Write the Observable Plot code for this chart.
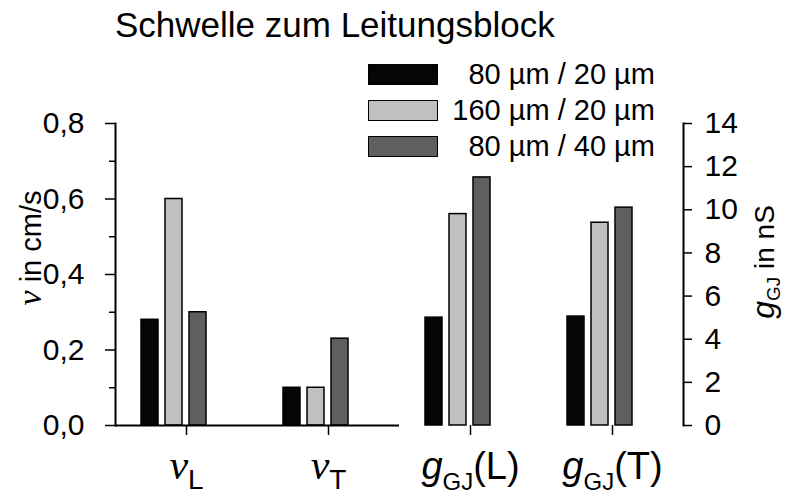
<!DOCTYPE html>
<html lang="de">
<head>
<meta charset="utf-8">
<script src="https://cdn.jsdelivr.net/npm/d3@7"></script>
<script src="https://cdn.jsdelivr.net/npm/@observablehq/plot@0.6"></script>
<style>
  html, body { margin: 0; background: #fff; }
  #chart { position: relative; width: 787px; height: 494px; font-family: "Liberation Sans", Arial, sans-serif; color: #000; overflow: hidden; }
  #chart svg { position: absolute; left: 0; top: 0; }
  #title { position: absolute; left: 115px; top: 7px; font-size: 35px; line-height: 35px; white-space: nowrap; }
  .legend-row { position: absolute; left: 368px; width: 287px; height: 36px; display: flex; align-items: center; justify-content: space-between; font-size: 29px; line-height: 36px; white-space: nowrap; }
  .swatch { box-sizing: border-box; width: 70px; height: 21px; border: 1.5px solid #000; }
  .axis-title { position: absolute; font-size: 29px; line-height: 1; white-space: nowrap; transform: translate(-50%, -50%) rotate(-90deg); }
  .axis-title.right { font-size: 28px; }
  .var-serif { font-family: "Liberation Serif", "Times New Roman", serif; font-style: italic; font-size: 34px; }
  .var-sans { font-style: italic; font-size: 32px; }
  .axis-title sub { font-size: 19px; vertical-align: -6px; line-height: 0; }
</style>
</head>
<body>
<div id="chart">
  <div id="title">Schwelle zum Leitungsblock</div>
</div>
<script>
// Groups along the x axis and the parts of their labels
const groups = ["vL", "vT", "gL", "gT"];
const groupSymbol = ["v", "v", "g", "g"];
const groupSub = ["L", "T", "GJ", "GJ"];
const groupSuffix = ["", "", "(L)", "(T)"];

// Geometry variants (bar series)
const series = ["80 µm / 20 µm", "160 µm / 20 µm", "80 µm / 40 µm"];
const seriesColors = ["#050505", "#c0c0c0", "#5f5f5f"];

// Conduction velocities, cm/s (left axis)
const vL = [0.28, 0.60, 0.30];
const vT = [0.10, 0.10, 0.23];

// Gap-junction conductance, nS (right axis)
const gL = [5.0, 9.8, 11.5];
const gT = [5.05, 9.4, 10.1];

// Axis ticks
const vTicks = [0, 0.2, 0.4, 0.6, 0.8];
const vMinorTicks = [0.1, 0.3, 0.5, 0.7];
const gTicks = [0, 2, 4, 6, 8, 10, 12, 14];

const rows = (group, values) => values.map((value, i) => ({group, series: series[i], value}));
const vData = [...rows("vL", vL), ...rows("vT", vT)];
const gData = [...rows("gL", gL), ...rows("gT", gT)];

const SANS = "Liberation Sans, Arial, sans-serif";
const SERIF = "Liberation Serif, Times New Roman, serif";

// Shared frame so both value scales line up on the same groups
const layout = {width: 787, height: 494, marginLeft: 114, marginRight: 104, marginTop: 123, marginBottom: 69};
const style = {background: "transparent", fontFamily: SANS, fontSize: "30px", overflow: "visible", color: "#000"};
const xScale = {domain: series, paddingInner: 0.28, paddingOuter: 1.485, align: 0.337, axis: null};
const colorScale = {domain: series, range: seriesColors};
const bars = {fx: "group", x: "series", y: "value", fill: "series", stroke: "#000", strokeWidth: 1.5};

// Velocity panel: left axis, baseline and group labels
const velocityPlot = Plot.plot({
  ...layout,
  style,
  fx: {domain: groups, padding: 0, label: null},
  x: xScale,
  y: {domain: [0, 0.8], label: null},
  color: colorScale,
  marks: [
    Plot.barY(vData, bars),
    Plot.ruleY([0], {stroke: "#000", strokeWidth: 2}),
    Plot.frame({anchor: "left", facetAnchor: "left", stroke: "#000", strokeWidth: 2}),
    Plot.axisY(vMinorTicks, {tickSize: 6, strokeWidth: 1.5, tickFormat: () => "", label: null}),
    Plot.axisY(vTicks, {tickSize: 10, tickPadding: 21, strokeWidth: 1.5, fontSize: 30, label: null,
      tickFormat: d => d.toFixed(1).replace(".", ",")}),
    Plot.axisFx({anchor: "bottom", tickSize: 10, tickPadding: 17, strokeWidth: 1.5, fontSize: 38, label: null,
      tickFormat: d => d})
  ]
});

// Conductance panel: right axis
const conductancePlot = Plot.plot({
  ...layout,
  style,
  fx: {domain: groups, padding: 0, axis: null},
  x: xScale,
  y: {domain: [0, 14], label: null},
  color: colorScale,
  marks: [
    Plot.barY(gData, bars),
    Plot.frame({anchor: "right", facetAnchor: "right", stroke: "#000", strokeWidth: 2}),
    Plot.axisY(gTicks, {anchor: "right", tickSize: 8, tickPadding: 13, strokeWidth: 1.5, fontSize: 30, label: null})
  ]
});

// Group labels with italic symbols and subscripts
velocityPlot.querySelectorAll('g[aria-label^="fx-axis"] text').forEach(t => {
  const i = groups.indexOf(t.textContent);
  if (i < 0) return;
  const label = d3.select(t).text(null);
  const isVelocity = i < 2;
  const shift = isVelocity ? 10 : 11;
  label.append("tspan")
    .attr("font-family", isVelocity ? SERIF : SANS)
    .attr("font-style", "italic")
    .attr("font-size", isVelocity ? 42 : 38)
    .text(groupSymbol[i]);
  label.append("tspan")
    .attr("font-size", isVelocity ? 28 : 24)
    .attr("dy", shift)
    .text(groupSub[i]);
  if (groupSuffix[i]) {
    label.append("tspan")
      .attr("font-size", 38)
      .attr("dy", -shift)
      .text(groupSuffix[i]);
  }
});

const chart = document.getElementById("chart");
chart.append(velocityPlot, conductancePlot);

// Legend
const legendTop = [56, 92, 128];
series.forEach((s, i) => {
  const row = document.createElement("div");
  row.className = "legend-row";
  row.style.top = legendTop[i] + "px";
  const sw = document.createElement("div");
  sw.className = "swatch";
  sw.style.background = seriesColors[i];
  const label = document.createElement("span");
  label.textContent = s;
  row.append(sw, label);
  chart.append(row);
});

// Axis titles
const leftTitle = document.createElement("div");
leftTitle.className = "axis-title";
leftTitle.style.left = "30px";
leftTitle.style.top = "248px";
leftTitle.innerHTML = '<span class="var-serif">v</span> in cm/s';
const rightTitle = document.createElement("div");
rightTitle.className = "axis-title right";
rightTitle.style.left = "763px";
rightTitle.style.top = "262px";
rightTitle.innerHTML = '<span class="var-sans">g</span><sub>GJ</sub> in nS';
chart.append(leftTitle, rightTitle);
</script>
</body>
</html>
